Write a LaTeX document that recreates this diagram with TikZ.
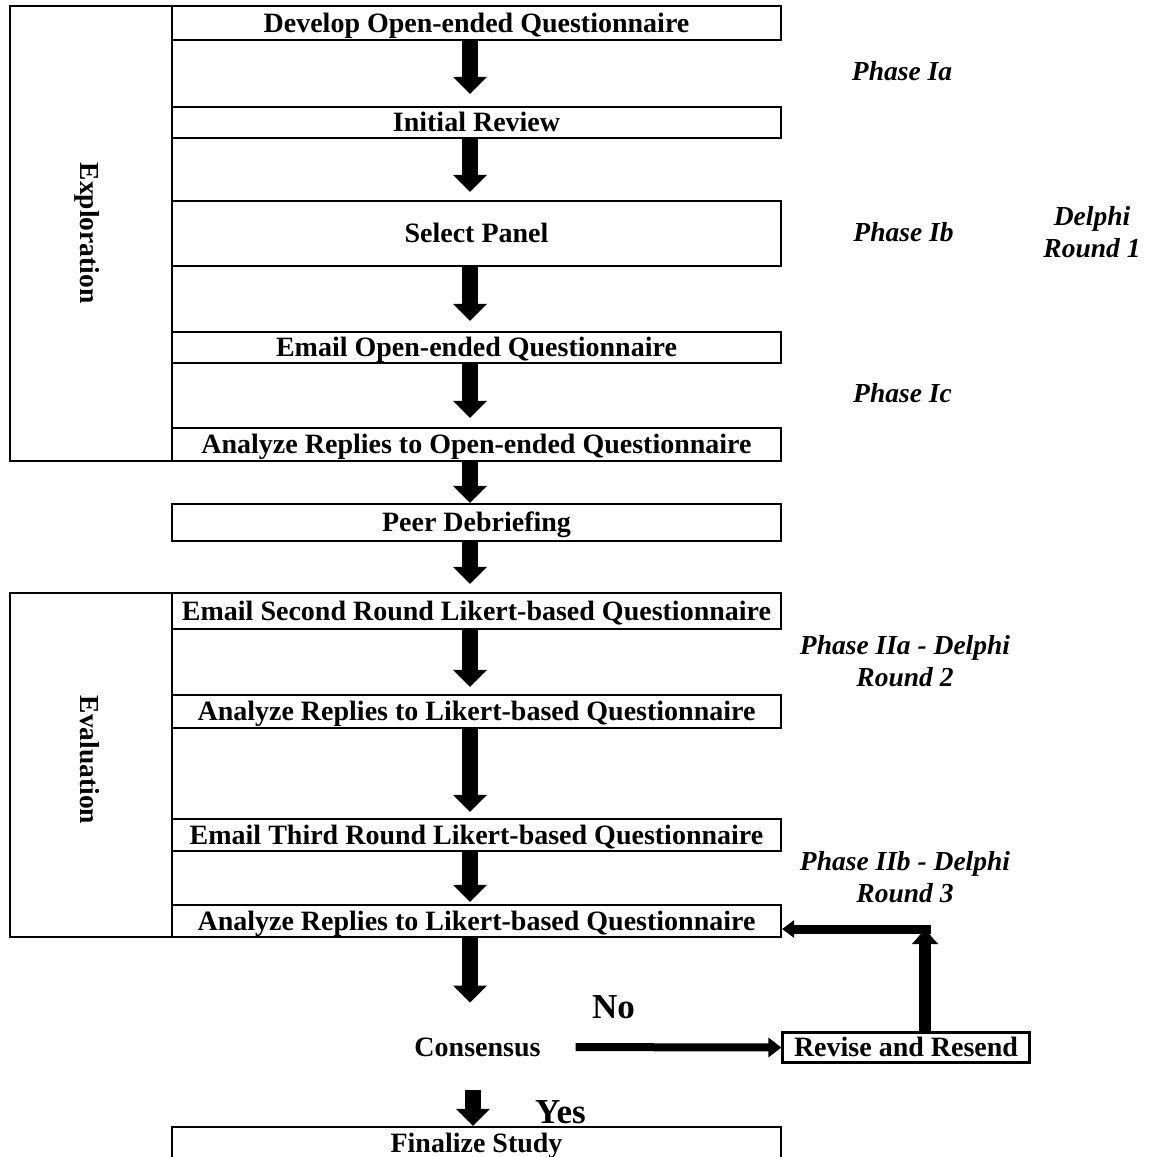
\documentclass[tikz,border=0pt]{standalone}
\usepackage{fontspec}
\setmainfont{Liberation Serif}
\usetikzlibrary{arrows.meta,calc}
\begin{document}
\begin{tikzpicture}[x=1pt,y=-1pt,
  stepbox/.style={draw, line width=2.2pt, inner sep=0pt, minimum width=609pt,
    font=\bfseries\fontsize{28pt}{33pt}\selectfont, text height=18.5pt, text depth=0pt},
  groupbox/.style={draw, line width=2.2pt, inner sep=0pt, minimum width=162pt},
  sidelabel/.style={font=\bfseries\fontsize{27.5pt}{33pt}\selectfont, rotate=-90,
    text height=19pt, text depth=6pt, inner sep=0pt},
  phase/.style={font=\bfseries\itshape\fontsize{27.5pt}{32.5pt}\selectfont, align=center, inner sep=0pt},
  plain/.style={font=\bfseries\fontsize{28pt}{33pt}\selectfont, text height=18.5pt, text depth=0pt, inner sep=0pt},
  answer/.style={font=\bfseries\fontsize{35pt}{40pt}\selectfont, inner sep=0pt, anchor=base west},
  barrow/.style={line width=16pt, -{Triangle[width=33pt,length=17pt]}},
  harrow/.style={line width=8pt, -{Triangle[width=19pt,length=13pt]}}
]
\fill[white] (0,0) rectangle (1149,1157);
\useasboundingbox (0,0) rectangle (1149,1157);

% group frames
\node[groupbox, minimum height=455pt] (explbox) at (91,233.5) {};
\node[groupbox, minimum height=344pt] (evalbox) at (91,765) {};
\node[sidelabel] (expl) at (86.5,233) {Exploration};
\node[sidelabel] (eval) at (86.5,760) {Evaluation};

% step boxes
\node[stepbox, minimum height=34pt] (dev) at (476.5,23) {Develop Open-ended Questionnaire};
\node[stepbox, minimum height=31pt] (ini) at (476.5,122.5) {Initial Review};
\node[stepbox, minimum height=65pt] (sel) at (476.5,233.5) {Select Panel};
\node[stepbox, minimum height=31pt] (emo) at (476.5,347.5) {Email Open-ended Questionnaire};
\node[stepbox, minimum height=33pt] (ano) at (476.5,444.5) {Analyze Replies to Open-ended Questionnaire};
\node[stepbox, minimum height=37pt] (peer) at (476.5,522.5) {Peer Debriefing};
\node[stepbox, minimum height=36pt] (em2) at (476.5,611) {Email Second Round Likert-based Questionnaire};
\node[stepbox, minimum height=33pt] (anl) at (476.5,711.5) {Analyze Replies to Likert-based Questionnaire};
\node[stepbox, minimum height=32pt] (em3) at (476.5,835) {Email Third Round Likert-based Questionnaire};
\node[stepbox, minimum height=32pt] (an2) at (476.5,921) {Analyze Replies to Likert-based Questionnaire};
\node[stepbox, minimum height=33pt] (fin) at (476.5,1143.5) {Finalize Study};
\node[plain] (cons) at (477.5,1047) {Consensus};
\node[stepbox, minimum width=247pt, minimum height=30pt] (rev) at (906,1047.5) {Revise and Resend};
\node[answer] (no) at (592,1018) {No};
\node[answer] (yes) at (535,1123) {Yes};

% phase labels
\node[phase] (pIa) at (902,71) {Phase Ia};
\node[phase] (pIb) at (903.5,232.5) {Phase Ib};
\node[phase] (d1) at (1092,232) {Delphi\\Round 1};
\node[phase] (pIc) at (902.5,393.5) {Phase Ic};
\node[phase] (pIIa) at (905,661) {Phase IIa - Delphi\\Round 2};
\node[phase] (pIIb) at (905,877) {Phase IIb - Delphi\\Round 3};

% arrows
\coordinate (ax) at (470,0);
\coordinate (ax2) at (473,0);
\draw[barrow, shorten >=12pt] (dev.south -| ax) -- (ini.north -| ax);
\draw[barrow, shorten >=8pt] (ini.south -| ax) -- (sel.north -| ax);
\draw[barrow, shorten >=10pt] (sel.south -| ax) -- (emo.north -| ax);
\draw[barrow, shorten >=9pt] (emo.south -| ax) -- (ano.north -| ax);
\draw[barrow] (ano.south -| ax) -- (peer.north -| ax);
\draw[barrow, shorten >=8pt] (peer.south -| ax) -- (em2.north -| ax);
\draw[barrow, shorten >=7pt] (em2.south -| ax) -- (anl.north -| ax);
\draw[barrow, shorten >=6pt] (anl.south -| ax) -- (em3.north -| ax);
\draw[barrow, shorten >=2pt] (em3.south -| ax) -- (an2.north -| ax);
\draw[barrow, shorten >=35pt] (an2.south -| ax) -- (cons.north -| ax);
\draw[barrow, shorten <=34pt] (cons.south -| ax2) -- (fin.north -| ax2);
\draw[harrow, shorten <=35pt] (cons.east) -- (rev.west);

% feedback loop
\coordinate (corner) at (925,929);
\draw[line width=12pt, -{Triangle[width=25pt,length=15pt]}] (rev.north -| corner) -- (corner);
\draw[line width=9pt, -{Triangle[width=17pt,length=12pt]}] ([xshift=6pt]corner) -- (an2.east |- corner);
\end{tikzpicture}
\end{document}
